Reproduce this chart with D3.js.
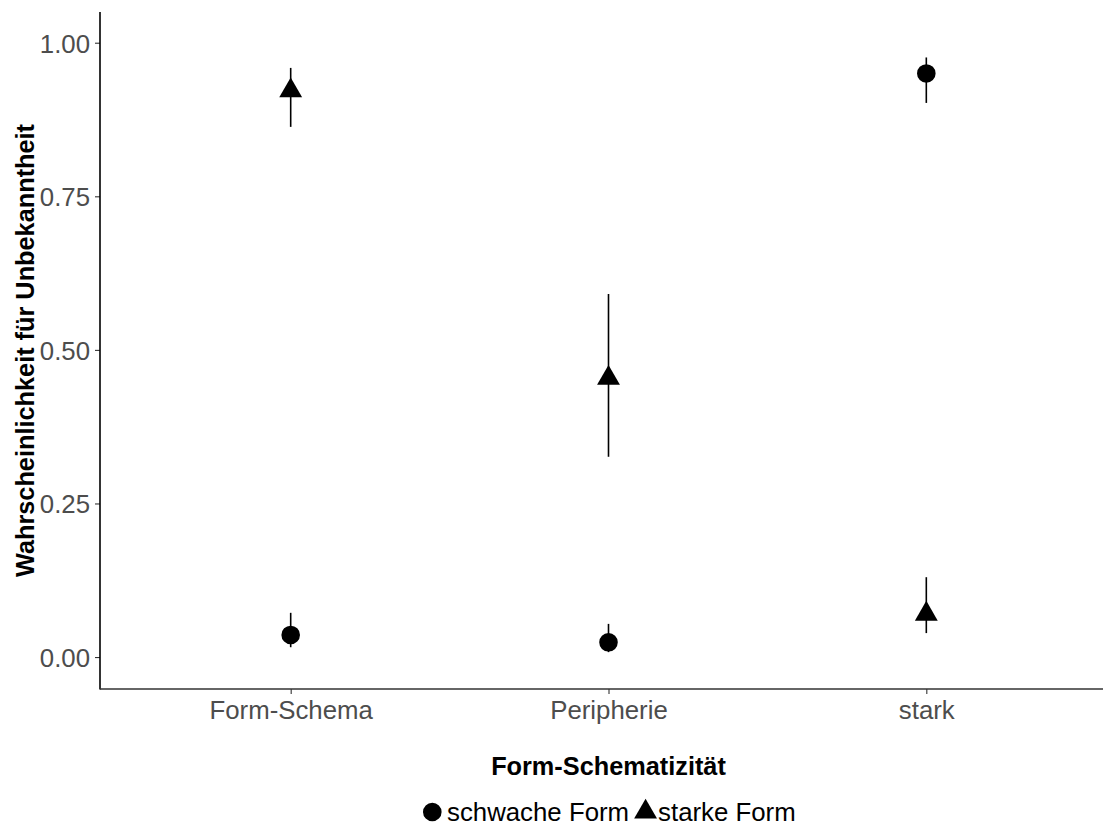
<!DOCTYPE html>
<html><head><meta charset="utf-8">
<script src="https://cdn.jsdelivr.net/npm/d3@7"></script>
<style>body{margin:0;background:#fff}svg{display:block}text{font-family:"Liberation Sans",Arial,sans-serif}</style>
</head><body>
<svg id="chart" width="1103" height="827"></svg>
<script>
const categories = ["Form-Schema", "Peripherie", "stark"];
const seriesNames = ["schwache Form", "starke Form"];
const schwacheMean = [0.036, 0.024, 0.950];
const schwacheLow  = [0.016, 0.008, 0.902];
const schwacheHigh = [0.072, 0.054, 0.976];
const starkeMean = [0.922, 0.454, 0.070];
const starkeLow  = [0.863, 0.326, 0.039];
const starkeHigh = [0.959, 0.591, 0.130];
const yTicks = [0, 0.25, 0.5, 0.75, 1.0];

(function () {
const svg = d3.select("#chart");
const pLeft = 100, pRight = 1117, pTop = 12, pBottom = 689;
const tickFont = "25.8px", titleFont = "25.3px";

const x = d3.scalePoint().domain(categories).range([pLeft, pRight]).padding(0.6);
const y = d3.scaleLinear().domain([-0.052, 1.050]).range([pBottom, pTop]);

const data = [];
categories.forEach((c, i) => {
  data.push({cat: c, s: 0, m: schwacheMean[i], lo: schwacheLow[i], hi: schwacheHigh[i]});
  data.push({cat: c, s: 1, m: starkeMean[i], lo: starkeLow[i], hi: starkeHigh[i]});
});

const yAxis = svg.append("g").attr("transform", `translate(${pLeft},0)`)
  .call(d3.axisLeft(y).tickValues(yTicks).tickFormat(d3.format(".2f")).tickSizeOuter(0).tickSize(5).tickPadding(5));
const xAxis = svg.append("g").attr("transform", `translate(0,${pBottom})`)
  .call(d3.axisBottom(x).tickSizeOuter(0).tickSize(5).tickPadding(6));
[yAxis, xAxis].forEach(g => {
  g.select(".domain").remove();
  g.selectAll(".tick line").attr("stroke", "#333").attr("stroke-width", 1.1);
  g.selectAll(".tick text").attr("fill", "#4d4d4d").style("font-size", tickFont);
});
xAxis.selectAll(".tick text").attr("dy", "0.75em");
yAxis.selectAll(".tick text").attr("dy", "0.36em");

svg.append("line").attr("x1", pLeft).attr("x2", pLeft).attr("y1", pTop).attr("y2", pBottom + 0.5)
  .attr("stroke", "#000").attr("stroke-width", 1.6);
svg.append("line").attr("x1", pLeft).attr("x2", 1103).attr("y1", pBottom).attr("y2", pBottom)
  .attr("stroke", "#333").attr("stroke-width", 1.6);

svg.append("g").selectAll("line").data(data).join("line")
  .attr("x1", d => x(d.cat)).attr("x2", d => x(d.cat))
  .attr("y1", d => y(d.lo)).attr("y2", d => y(d.hi))
  .attr("stroke", "#000").attr("stroke-width", 1.6);

const circ = d3.symbol().type(d3.symbolCircle).size(Math.PI * 9.3 * 9.3);
const r = 13.2;
function triPath(cx, cy, rr) {
  const h = rr * Math.sqrt(3) / 2;
  return `M${cx},${cy - rr}L${cx + h},${cy + rr / 2}L${cx - h},${cy + rr / 2}Z`;
}
svg.append("g").selectAll("path").data(data).join("path")
  .attr("d", d => d.s === 0 ? circ() : triPath(0, 0, r))
  .attr("transform", d => `translate(${x(d.cat)},${y(d.m)})`)
  .attr("fill", "#000");

svg.append("text").attr("x", (pLeft + pRight) / 2).attr("y", 775).attr("text-anchor", "middle")
  .style("font-size", titleFont).style("font-weight", "bold").text("Form-Schematizität");
svg.append("text").attr("transform", `translate(34,${(pTop + pBottom) / 2}) rotate(-90)`).attr("text-anchor", "middle")
  .style("font-size", titleFont).style("font-weight", "bold").text("Wahrscheinlichkeit für Unbekanntheit");

const lg = svg.append("g");
const ly = 812;
let cx = 423;
seriesNames.forEach((name, i) => {
  if (i === 0) {
    lg.append("path").attr("d", circ()).attr("transform", `translate(${cx + 9.3},${ly})`);
    cx += 24;
  } else {
    cx += 5;
    lg.append("path").attr("d", triPath(cx + 11.5, ly, r)).attr("fill", "#000");
    cx += 24;
  }
  const t = lg.append("text").attr("x", cx).attr("y", ly).attr("dy", "0.33em")
    .style("font-size", tickFont).attr("fill", "#000").text(name);
  cx += t.node().getComputedTextLength();
});
})();
</script>
</body></html>
